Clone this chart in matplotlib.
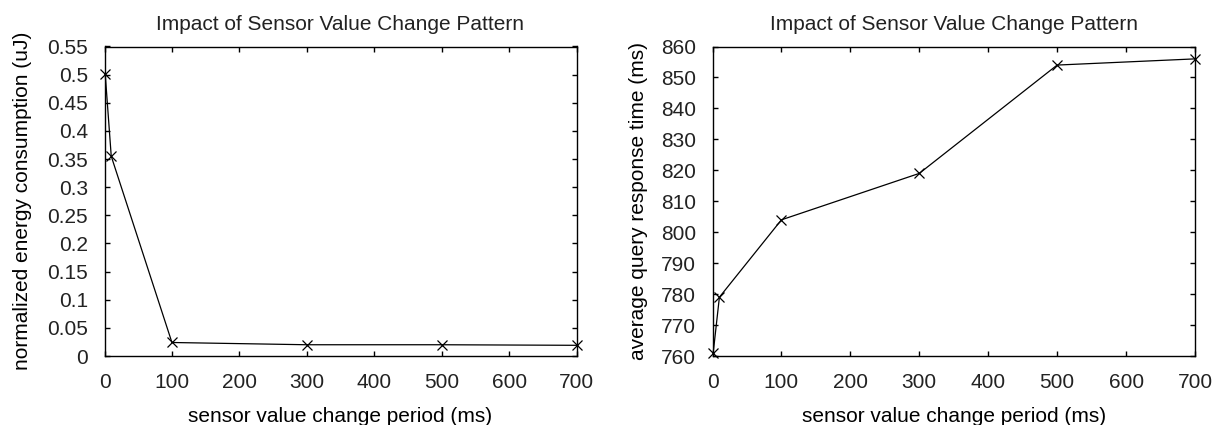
import matplotlib
matplotlib.use('Agg')
import matplotlib.pyplot as plt

# data
period = [1, 10, 100, 300, 500, 700]
energy = [0.502, 0.355, 0.024, 0.020, 0.020, 0.019]
response = [761, 779, 804, 819, 854, 856]

title = 'Impact of Sensor Value Change Pattern'
xlabel = 'sensor value change period (ms)'
ylabel_left = 'normalized energy consumption (uJ)'
ylabel_right = 'average query response time (ms)'

plt.rcParams['font.family'] = ['Liberation Sans', 'DejaVu Sans']
plt.rcParams['text.color'] = '#222222'

fig = plt.figure(figsize=(12.14, 4.25), dpi=100)
ax1 = fig.add_axes([104.5 / 1214, 1 - 356 / 425, 472 / 1214, 309.5 / 425])
ax2 = fig.add_axes([712.5 / 1214, 1 - 356 / 425, 482.5 / 1214, 309.5 / 425])


def style(ax):
    ax.tick_params(direction='in', top=True, right=True, length=3.5, width=1,
                   labelsize=15, labelcolor='#222222')
    ax.tick_params(axis='x', pad=12)
    ax.tick_params(axis='y', pad=12)
    for s in ax.spines.values():
        s.set_linewidth(1.0)
    ax.set_xlim(0, 700)
    ax.set_xticks(range(0, 701, 100))
    ax.set_xlabel(xlabel, fontsize=15, labelpad=11)
    ax.set_title(title, fontsize=15, pad=12)


ax1.plot(period, energy, color='black', lw=0.9, marker='x', ms=6.5, mew=0.9,
         clip_on=False)
style(ax1)
ax1.set_ylim(0, 0.55)
ax1.set_yticks([i * 0.05 for i in range(12)])
ax1.set_yticklabels(['0', '0.05', '0.1', '0.15', '0.2', '0.25', '0.3',
                     '0.35', '0.4', '0.45', '0.5', '0.55'])
ax1.set_ylabel(ylabel_left, fontsize=15, labelpad=11)

ax2.plot(period, response, color='black', lw=0.9, marker='x', ms=6.5, mew=0.9,
         clip_on=False)
style(ax2)
ax2.set_ylim(760, 860)
ax2.set_yticks(range(760, 861, 10))
ax2.set_ylabel(ylabel_right, fontsize=15, labelpad=9)

fig.savefig('out.png', dpi=100)
